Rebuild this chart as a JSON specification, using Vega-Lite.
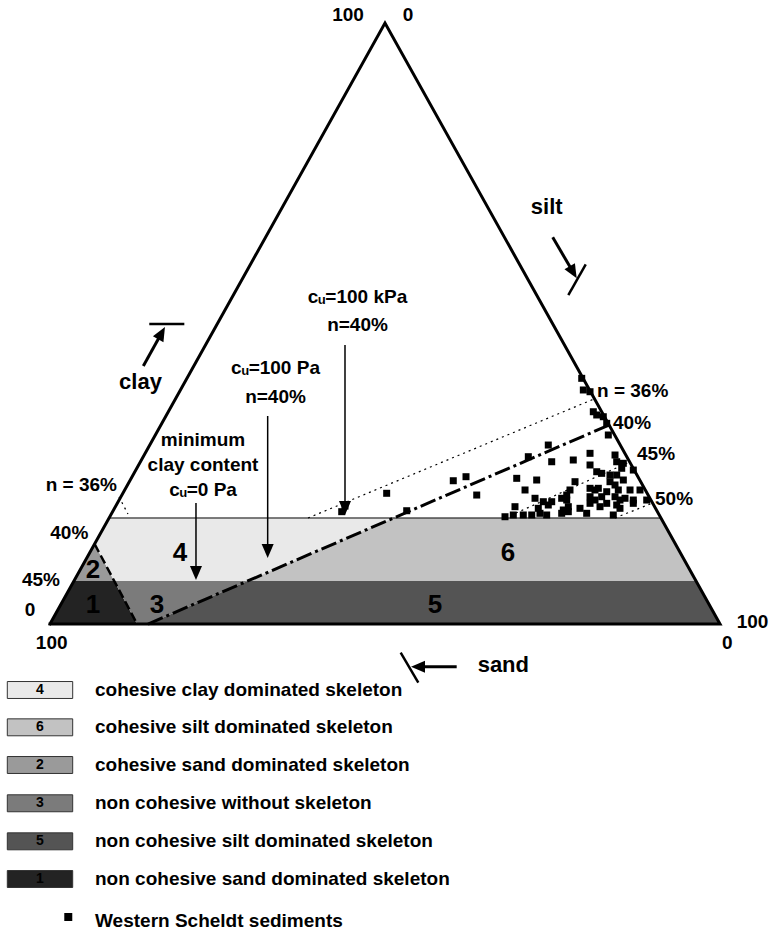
{
  "$schema": "https://vega.github.io/schema/vega-lite/v6.json",
  "width": 771,
  "height": 934,
  "autosize": {"type": "fit", "contains": "padding"},
  "padding": 0,
  "background": "white",
  "config": {"view": {"stroke": null}},
  "datasets": {
    "regions": [
      {"region": "1", "y": 0, "x": 0, "x2": 13.0},
      {"region": "1", "y": 7.15, "x": 3.58, "x2": 9.59},
      {"region": "2", "y": 7.15, "x": 3.58, "x2": 9.59},
      {"region": "2", "y": 13.31, "x": 6.66, "x2": 6.66},
      {"region": "3", "y": 0, "x": 13.0, "x2": 14.63},
      {"region": "3", "y": 7.15, "x": 9.59, "x2": 29.49},
      {"region": "5", "y": 0, "x": 14.63, "x2": 100},
      {"region": "5", "y": 7.15, "x": 29.49, "x2": 96.42},
      {"region": "4", "y": 7.15, "x": 9.59, "x2": 29.49},
      {"region": "4", "y": 13.31, "x": 6.66, "x2": 42.29},
      {"region": "4", "y": 17.64, "x": 8.82, "x2": 51.29},
      {"region": "6", "y": 7.15, "x": 29.49, "x2": 96.42},
      {"region": "6", "y": 17.64, "x": 51.29, "x2": 91.18}
    ],
    "outline": [
      {"o": 1, "x": 0, "y": 0},
      {"o": 2, "x": 100, "y": 0},
      {"o": 3, "x": 50, "y": 100},
      {"o": 4, "x": 0, "y": 0}
    ],
    "segs": [
      {"kind": "hline", "x": 8.82, "y": 17.64, "x2": 91.18, "y2": 17.64},
      {"kind": "dash", "x": 14.63, "y": 0, "x2": 83.44, "y2": 33.11},
      {"kind": "dash2", "x": 6.66, "y": 13.31, "x2": 13.0, "y2": 0},
      {"kind": "dot", "x": 38.51, "y": 17.64, "x2": 81.19, "y2": 37.44},
      {"kind": "dot", "x": 67.91, "y": 17.64, "x2": 86.5, "y2": 26.96},
      {"kind": "dot", "x": 84.33, "y": 17.64, "x2": 89.93, "y2": 20.13},
      {"kind": "dot", "x": 10.30, "y": 21.13, "x2": 11.64, "y2": 18.30},
      {"kind": "bar", "x": 14.82, "y": 49.92, "x2": 20.05, "y2": 49.92},
      {"kind": "bar", "x": 77.36, "y": 54.74, "x2": 79.96, "y2": 59.85},
      {"kind": "bar", "x": 52.34, "y": -4.78, "x2": 54.97, "y2": -9.77}
    ],
    "arrows": [
      {"name": "cu0", "kind": "thin", "x": 21.79, "y": 20.13, "x2": 21.79, "y2": 8.5},
      {"name": "cu100Pa", "kind": "thin", "x": 32.49, "y": 34.61, "x2": 32.49, "y2": 12.2},
      {"name": "cu100kPa", "kind": "thin", "x": 44.03, "y": 46.42, "x2": 44.03, "y2": 19.4},
      {"name": "clay", "kind": "thick", "x": 13.93, "y": 42.93, "x2": 16.6, "y2": 48.3},
      {"name": "silt", "kind": "thick", "x": 75.03, "y": 64.34, "x2": 78.0, "y2": 58.7},
      {"name": "sand", "kind": "thick", "x": 60.70, "y": -7.10, "x2": 55.0, "y2": -7.10}
    ],
    "heads": [
      {"name": "cu0", "x": 21.79, "y": 7.32},
      {"name": "cu100Pa", "x": 32.49, "y": 10.98},
      {"name": "cu100kPa", "x": 44.03, "y": 18.14},
      {"name": "clay", "x": 17.16, "y": 49.42},
      {"name": "silt", "x": 78.61, "y": 57.52},
      {"name": "sand", "x": 53.88, "y": -7.10}
    ],
    "points": [
      {"x": 79.36, "y": 40.88}, {"x": 79.60, "y": 38.94}, {"x": 80.60, "y": 38.65}, {"x": 81.09, "y": 35.32},
      {"x": 81.60, "y": 34.78}, {"x": 82.58, "y": 34.49}, {"x": 83.09, "y": 33.39}, {"x": 83.33, "y": 31.45},
      {"x": 74.37, "y": 29.78}, {"x": 71.39, "y": 27.84}, {"x": 74.88, "y": 27.00}, {"x": 78.10, "y": 27.29},
      {"x": 80.60, "y": 28.40}, {"x": 84.33, "y": 28.12}, {"x": 84.58, "y": 27.00}, {"x": 85.57, "y": 26.74},
      {"x": 80.60, "y": 26.46}, {"x": 85.33, "y": 25.91}, {"x": 87.06, "y": 25.62}, {"x": 81.60, "y": 25.34},
      {"x": 82.34, "y": 25.07}, {"x": 83.58, "y": 24.79}, {"x": 84.58, "y": 24.79}, {"x": 69.66, "y": 24.24},
      {"x": 72.64, "y": 23.96}, {"x": 78.36, "y": 23.68}, {"x": 83.58, "y": 23.68}, {"x": 85.57, "y": 23.96},
      {"x": 84.33, "y": 23.13}, {"x": 70.90, "y": 22.30}, {"x": 77.61, "y": 22.30}, {"x": 80.60, "y": 22.58},
      {"x": 81.34, "y": 22.30}, {"x": 83.09, "y": 22.01}, {"x": 84.82, "y": 22.30}, {"x": 86.57, "y": 22.30},
      {"x": 88.06, "y": 22.30}, {"x": 77.12, "y": 21.46}, {"x": 72.39, "y": 20.92}, {"x": 73.63, "y": 20.35},
      {"x": 74.88, "y": 20.35}, {"x": 76.37, "y": 20.92}, {"x": 80.60, "y": 21.18}, {"x": 82.34, "y": 21.18},
      {"x": 84.33, "y": 21.18}, {"x": 85.82, "y": 20.92}, {"x": 87.06, "y": 20.63}, {"x": 89.06, "y": 20.63},
      {"x": 69.40, "y": 19.52}, {"x": 72.88, "y": 19.25}, {"x": 74.37, "y": 19.80}, {"x": 77.36, "y": 19.52},
      {"x": 79.10, "y": 19.25}, {"x": 80.60, "y": 20.08}, {"x": 82.09, "y": 19.52}, {"x": 84.58, "y": 19.80},
      {"x": 87.06, "y": 20.08}, {"x": 69.15, "y": 18.14}, {"x": 70.64, "y": 18.14}, {"x": 71.90, "y": 18.14},
      {"x": 73.13, "y": 18.42}, {"x": 74.13, "y": 18.14}, {"x": 76.37, "y": 18.42}, {"x": 77.36, "y": 18.69},
      {"x": 80.10, "y": 18.42}, {"x": 84.07, "y": 18.14}, {"x": 67.91, "y": 17.85}, {"x": 81.84, "y": 22.58},
      {"x": 77.12, "y": 20.63}, {"x": 81.34, "y": 20.63}, {"x": 85.07, "y": 20.63}, {"x": 76.61, "y": 18.97},
      {"x": 83.09, "y": 20.08}, {"x": 85.07, "y": 19.25}, {"x": 50.25, "y": 21.75}, {"x": 43.54, "y": 18.69},
      {"x": 44.03, "y": 19.63}, {"x": 60.19, "y": 23.84}, {"x": 62.09, "y": 24.51}, {"x": 63.69, "y": 21.46},
      {"x": 53.24, "y": 18.85}
    ],
    "texts": [
      {"g": "tick", "t": "100", "x": 44.48, "y": 101.33},
      {"g": "tick", "t": "0", "x": 53.43, "y": 101.33},
      {"g": "tick", "t": "100", "x": 0.25, "y": -3.16},
      {"g": "tick", "t": "0", "x": -2.99, "y": 2.33},
      {"g": "tick", "t": "100", "x": 104.85, "y": 0.38},
      {"g": "tick", "t": "0", "x": 101.09, "y": -3.21},
      {"g": "porL", "t": "n = 36%", "x": 10.0, "y": 23.13},
      {"g": "porL", "t": "40%", "x": 5.72, "y": 15.09},
      {"g": "porL", "t": "45%", "x": 1.49, "y": 7.32},
      {"g": "porR", "t": "n = 36%", "x": 81.64, "y": 38.77},
      {"g": "porR", "t": "40%", "x": 84.03, "y": 33.44},
      {"g": "porR", "t": "45%", "x": 87.61, "y": 28.29},
      {"g": "porR", "t": "50%", "x": 90.30, "y": 20.80},
      {"g": "note", "t": "minimum", "x": 22.84, "y": 30.62},
      {"g": "note", "t": "clay content", "x": 22.84, "y": 26.46},
      {"g": "note", "t": "cᵤ=0 Pa", "x": 22.84, "y": 22.30},
      {"g": "note", "t": "cᵤ=100 Pa", "x": 33.66, "y": 42.55},
      {"g": "note", "t": "n=40%", "x": 33.66, "y": 37.82},
      {"g": "note", "t": "cᵤ=100 kPa", "x": 45.9, "y": 54.41},
      {"g": "note", "t": "n=40%", "x": 45.9, "y": 49.75},
      {"g": "axis", "t": "clay", "x": 13.51, "y": 40.27},
      {"g": "axis", "t": "silt", "x": 74.13, "y": 69.43},
      {"g": "axis", "t": "sand", "x": 67.66, "y": -6.76},
      {"g": "region", "t": "4", "x": 19.40, "y": 11.81},
      {"g": "region", "t": "6", "x": 68.36, "y": 11.81},
      {"g": "region", "t": "2", "x": 6.42, "y": 8.99},
      {"g": "region", "t": "1", "x": 6.42, "y": 3.16},
      {"g": "region", "t": "3", "x": 15.97, "y": 3.16},
      {"g": "region", "t": "5", "x": 57.46, "y": 3.16},
      {"g": "legend", "t": "cohesive clay dominated skeleton", "x": 6.72, "y": -10.98},
      {"g": "legend", "t": "cohesive silt dominated skeleton", "x": 6.72, "y": -17.19},
      {"g": "legend", "t": "cohesive sand dominated skeleton", "x": 6.72, "y": -23.46},
      {"g": "legend", "t": "non cohesive without skeleton", "x": 6.72, "y": -29.83},
      {"g": "legend", "t": "non cohesive silt dominated skeleton", "x": 6.72, "y": -36.16},
      {"g": "legend", "t": "non cohesive sand dominated skeleton", "x": 6.72, "y": -42.43},
      {"g": "legend", "t": "Western Scheldt sediments", "x": 6.72, "y": -49.4},
      {"g": "legnum", "t": "4", "x": -1.49, "y": -10.98},
      {"g": "legnum", "t": "6", "x": -1.49, "y": -17.19},
      {"g": "legnum", "t": "2", "x": -1.49, "y": -23.46},
      {"g": "legnum", "t": "3", "x": -1.49, "y": -29.83},
      {"g": "legnum", "t": "5", "x": -1.49, "y": -36.16},
      {"g": "legnum", "t": "1", "x": -1.49, "y": -42.43}
    ],
    "boxes": [
      {"region": "4", "x": -6.37, "x2": 3.39, "y": -9.57, "y2": -12.39},
      {"region": "6", "x": -6.37, "x2": 3.39, "y": -15.78, "y2": -18.60},
      {"region": "2", "x": -6.37, "x2": 3.39, "y": -22.05, "y2": -24.87},
      {"region": "3", "x": -6.37, "x2": 3.39, "y": -28.42, "y2": -31.24},
      {"region": "5", "x": -6.37, "x2": 3.39, "y": -34.75, "y2": -37.57},
      {"region": "1", "x": -6.37, "x2": 3.39, "y": -41.02, "y2": -43.84}
    ],
    "legpts": [
      {"x": 2.73, "y": -48.75}
    ]
  },
  "encoding": {
    "x": {"field": "x", "type": "quantitative", "scale": {"domain": [-7.46, 107.61], "nice": false, "zero": false}, "axis": null},
    "y": {"field": "y", "type": "quantitative", "scale": {"domain": [-51.58, 103.83], "nice": false, "zero": false}, "axis": null}
  },
  "layer": [
    {
      "data": {"name": "regions"},
      "mark": {"type": "area", "orient": "horizontal", "opacity": 1},
      "encoding": {
        "x": {"field": "x", "type": "quantitative", "stack": null, "scale": {"domain": [-7.46, 107.61], "nice": false, "zero": false}, "axis": null},
        "x2": {"field": "x2"},
        "color": {"field": "region", "type": "nominal", "scale": {"domain": ["1", "2", "3", "4", "5", "6"], "range": ["#232323", "#9a9a9a", "#7b7b7b", "#e9e9e9", "#545454", "#c2c2c2"]}, "legend": null}
      }
    },
    {
      "data": {"name": "boxes"},
      "mark": {"type": "rect", "stroke": "#333333", "strokeWidth": 1},
      "encoding": {
        "x2": {"field": "x2"},
        "y2": {"field": "y2"},
        "color": {"field": "region", "type": "nominal", "legend": null}
      }
    },
    {
      "data": {"name": "segs"},
      "transform": [{"filter": "datum.kind == 'hline'"}],
      "mark": {"type": "rule", "color": "black", "strokeWidth": 1},
      "encoding": {"x2": {"field": "x2"}, "y2": {"field": "y2"}}
    },
    {
      "data": {"name": "segs"},
      "transform": [{"filter": "datum.kind == 'dash'"}],
      "mark": {"type": "rule", "color": "black", "strokeWidth": 3, "strokeDash": [16, 4, 3, 4]},
      "encoding": {"x2": {"field": "x2"}, "y2": {"field": "y2"}}
    },
    {
      "data": {"name": "segs"},
      "transform": [{"filter": "datum.kind == 'dash2'"}],
      "mark": {"type": "rule", "color": "black", "strokeWidth": 2.5, "strokeDash": [9, 4]},
      "encoding": {"x2": {"field": "x2"}, "y2": {"field": "y2"}}
    },
    {
      "data": {"name": "segs"},
      "transform": [{"filter": "datum.kind == 'dot'"}],
      "mark": {"type": "rule", "color": "black", "strokeWidth": 1.2, "strokeDash": [2, 4]},
      "encoding": {"x2": {"field": "x2"}, "y2": {"field": "y2"}}
    },
    {
      "data": {"name": "segs"},
      "transform": [{"filter": "datum.kind == 'bar'"}],
      "mark": {"type": "rule", "color": "black", "strokeWidth": 2.5},
      "encoding": {"x2": {"field": "x2"}, "y2": {"field": "y2"}}
    },
    {
      "data": {"name": "outline"},
      "mark": {"type": "line", "color": "black", "strokeWidth": 3, "strokeJoin": "miter", "strokeCap": "square"},
      "encoding": {"order": {"field": "o", "type": "quantitative"}}
    },
    {
      "data": {"name": "points"},
      "mark": {"type": "point", "shape": "square", "filled": true, "color": "black", "opacity": 1, "size": 49}
    },
    {
      "data": {"name": "legpts"},
      "mark": {"type": "point", "shape": "square", "filled": true, "color": "black", "opacity": 1, "size": 64}
    },
    {
      "data": {"name": "arrows"},
      "transform": [{"filter": "datum.kind == 'thin'"}],
      "mark": {"type": "rule", "color": "black", "strokeWidth": 1.5},
      "encoding": {"x2": {"field": "x2"}, "y2": {"field": "y2"}}
    },
    {
      "data": {"name": "arrows"},
      "transform": [{"filter": "datum.kind == 'thick'"}],
      "mark": {"type": "rule", "color": "black", "strokeWidth": 3},
      "encoding": {"x2": {"field": "x2"}, "y2": {"field": "y2"}}
    },
    {
      "data": {"name": "heads"},
      "transform": [{"filter": "indexof(['cu0','cu100Pa','cu100kPa'], datum.name) >= 0"}],
      "mark": {"type": "point", "shape": "M-0.43,-1L0.43,-1L0,0Z", "filled": true, "color": "black", "opacity": 1, "size": 784, "angle": 0}
    },
    {
      "data": {"name": "heads"},
      "transform": [{"filter": "datum.name == 'clay'"}],
      "mark": {"type": "point", "shape": "M-0.43,-1L0.43,-1L0,0Z", "filled": true, "color": "black", "opacity": 1, "size": 784, "angle": 209}
    },
    {
      "data": {"name": "heads"},
      "transform": [{"filter": "datum.name == 'silt'"}],
      "mark": {"type": "point", "shape": "M-0.43,-1L0.43,-1L0,0Z", "filled": true, "color": "black", "opacity": 1, "size": 784, "angle": 330}
    },
    {
      "data": {"name": "heads"},
      "transform": [{"filter": "datum.name == 'sand'"}],
      "mark": {"type": "point", "shape": "M-0.43,-1L0.43,-1L0,0Z", "filled": true, "color": "black", "opacity": 1, "size": 784, "angle": 90}
    },
    {
      "data": {"name": "texts"},
      "transform": [{"filter": "datum.g == 'tick' || datum.g == 'note'"}],
      "mark": {"type": "text", "align": "center", "baseline": "middle", "font": "Liberation Sans", "fontWeight": "bold", "fontSize": 19, "color": "black"},
      "encoding": {"text": {"field": "t"}}
    },
    {
      "data": {"name": "texts"},
      "transform": [{"filter": "datum.g == 'porL'"}],
      "mark": {"type": "text", "align": "right", "baseline": "middle", "font": "Liberation Sans", "fontWeight": "bold", "fontSize": 19, "color": "black"},
      "encoding": {"text": {"field": "t"}}
    },
    {
      "data": {"name": "texts"},
      "transform": [{"filter": "datum.g == 'porR' || datum.g == 'legend'"}],
      "mark": {"type": "text", "align": "left", "baseline": "middle", "font": "Liberation Sans", "fontWeight": "bold", "fontSize": 19, "color": "black"},
      "encoding": {"text": {"field": "t"}}
    },
    {
      "data": {"name": "texts"},
      "transform": [{"filter": "datum.g == 'axis'"}],
      "mark": {"type": "text", "align": "center", "baseline": "middle", "font": "Liberation Sans", "fontWeight": "bold", "fontSize": 22, "color": "black"},
      "encoding": {"text": {"field": "t"}}
    },
    {
      "data": {"name": "texts"},
      "transform": [{"filter": "datum.g == 'region'"}],
      "mark": {"type": "text", "align": "center", "baseline": "middle", "font": "Liberation Sans", "fontWeight": "bold", "fontSize": 26, "color": "black"},
      "encoding": {"text": {"field": "t"}}
    },
    {
      "data": {"name": "texts"},
      "transform": [{"filter": "datum.g == 'legnum'"}],
      "mark": {"type": "text", "align": "center", "baseline": "middle", "font": "Liberation Sans", "fontWeight": "bold", "fontSize": 14, "color": "black"},
      "encoding": {"text": {"field": "t"}}
    }
  ]
}
